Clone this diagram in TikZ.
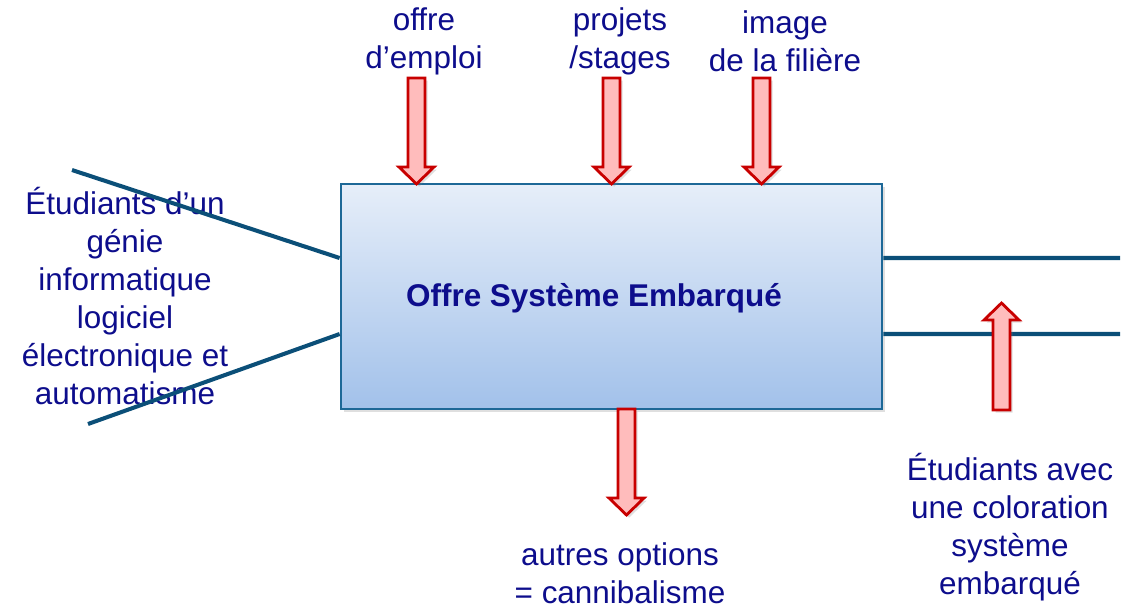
\documentclass[tikz,border=0pt]{standalone}
\usepackage{fontspec}
\setmainfont{Liberation Sans}
\usepackage{tikz}
\usetikzlibrary{shadows}
\usetikzlibrary{positioning}
\usepackage{xcolor}
\definecolor{navytext}{HTML}{0D0D8C}
\definecolor{boxborder}{HTML}{1D6897}
\definecolor{flowline}{HTML}{0B4F78}
\definecolor{arrowred}{HTML}{C80000}
\definecolor{arrowfill}{HTML}{FFBCBC}
\definecolor{boxtop}{HTML}{E6EEF9}
\definecolor{boxbottom}{HTML}{A2C1EA}

% block arrow: x, tail y, tip y, head base y
\newcommand{\redarrow}[4]{%
  \draw[redarrow] (#1-8.5,#2) -- (#1+8.5,#2) -- (#1+8.5,#4) -- (#1+17.5,#4)
     -- (#1,#3) -- (#1-17.5,#4) -- (#1-8.5,#4) -- cycle;}

\begin{document}
\begin{tikzpicture}[x=0.02cm, y=-0.02cm,
    label/.style={text=navytext, align=center, font=\fontsize{17.9}{21.6}\selectfont},
    flow/.style={draw=flowline, line width=2.3pt},
    mainbox/.style={draw=boxborder, line width=1.6pt, top color=boxtop, bottom color=boxbottom,
        minimum width=10.82cm, minimum height=4.5cm,
        drop shadow={opacity=0.25, shadow xshift=1.5pt, shadow yshift=-1.5pt}},
    redarrow/.style={draw=arrowred, fill=arrowfill, line width=1.6pt, line join=miter,
        drop shadow={opacity=0.25, shadow xshift=1.5pt, shadow yshift=-1.5pt}}]
  \useasboundingbox (0,0) rectangle (1132,610);

  \node[label] (emploi) at (424,41) {offre\\d’emploi};
  \node[label] (projets) at (620,41) {projets\\/stages};
  \node[label] (image) at (785,41) {image\\de la filière};
  \node[label] (entree) at (125,296) {Étudiants d’un\\génie\\informatique\\logiciel\\électronique et\\automatisme};
  \node[label] (autres) at (620,573) {autres options\\= cannibalisme};
  \node[label] (sortie) at (1010,527) {Étudiants avec\\une coloration\\système\\embarqué};

  \node[mainbox] (box) at (611.5,296.5) {};
  \node[label, font=\fontsize{17.9}{21.6}\selectfont\bfseries] (titre) at (594,298) {Offre Système Embarqué};

  \coordinate (in1) at (72,170);
  \coordinate (in2) at (88,424);
  \coordinate (out1) at (1120,258);
  \coordinate (out2) at (1120,334);
  \draw[flow] (in1) -- ([yshift=0.77cm]box.west);
  \draw[flow] (in2) -- ([yshift=-0.75cm]box.west);
  \draw[flow] ([yshift=0.77cm]box.east) -- (out1);
  \draw[flow] ([yshift=-0.75cm]box.east) -- (out2);

  \redarrow{416.5}{78}{184}{167}
  \redarrow{611.5}{78}{184}{167}
  \redarrow{761.5}{78}{184}{167}
  \redarrow{626.5}{409}{515}{498}
  \redarrow{1001.5}{410}{303}{320}
\end{tikzpicture}
\end{document}
